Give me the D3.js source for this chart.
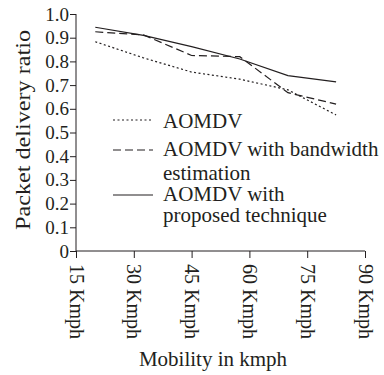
<!DOCTYPE html>
<html>
<head>
<meta charset="utf-8">
<script src="https://cdn.jsdelivr.net/npm/d3@7"></script>
<style>
  body { margin: 0; background: #fff; }
</style>
</head>
<body>
<div class="chart"></div>
<script>
// speeds where the curves were sampled
var speeds = [20, 32.5, 45, 57.5, 70, 82.5];
var aomdv = [0.883, 0.815, 0.755, 0.725, 0.68, 0.574];
var aomdvBw = [0.925, 0.912, 0.825, 0.82, 0.668, 0.62];
var aomdvProposed = [0.944, 0.91, 0.862, 0.81, 0.74, 0.714];

var xTicks = [15, 30, 45, 60, 75, 90];
var yTicks = [0, 0.1, 0.2, 0.3, 0.4, 0.5, 0.6, 0.7, 0.8, 0.9, 1.0];

var series = [
  {name: ["AOMDV"], values: aomdv, dash: "2,2.5"},
  {name: ["AOMDV with bandwidth", "estimation"], values: aomdvBw, dash: "8,4"},
  {name: ["AOMDV with", "proposed technique"], values: aomdvProposed, dash: null}
];

var ink = "#231f20";
var serif = "Liberation Serif";

var svg = d3.select(".chart")
  .append("svg")
  .attr("width", 384)
  .attr("height", 375);

var x = d3.scaleLinear().domain([15, 90]).range([76, 365]);
var y = d3.scaleLinear().domain([0, 1]).range([251, 14]);

// y axis
var yAxis = svg.append("g")
  .attr("transform", "translate(" + x(15) + ",0)")
  .call(d3.axisLeft(y).tickValues(yTicks).tickSize(6).tickPadding(1)
    .tickFormat(function(d) { return d === 0 ? "0" : d3.format(".1f")(d); }));
yAxis.select(".domain").remove();
yAxis.append("line").attr("x1", 0).attr("x2", 0).attr("y1", y(1)).attr("y2", y(0))
  .attr("stroke", ink);
yAxis.selectAll(".tick line").attr("stroke", ink);
yAxis.selectAll("text").attr("font-size", 19).style("font-family", serif).attr("fill", ink);

// x axis
var xAxis = svg.append("g")
  .attr("transform", "translate(0," + y(0) + ")")
  .call(d3.axisBottom(x).tickValues(xTicks).tickSize(7)
    .tickFormat(function(d) { return d + " Kmph"; }));
xAxis.select(".domain").remove();
xAxis.append("line").attr("x1", x(15)).attr("x2", x(90)).attr("y1", 0).attr("y2", 0)
  .attr("stroke", ink);
xAxis.selectAll(".tick line").attr("stroke", ink);
xAxis.selectAll("text")
  .attr("font-size", 20)
  .style("font-family", serif)
  .attr("fill", ink)
  .attr("text-anchor", "start")
  .attr("dy", "0.35em")
  .attr("transform", "translate(0,13) rotate(90)")
  .attr("y", 0)
  .attr("x", 0);

// axis titles
svg.append("text")
  .attr("x", 213)
  .attr("y", 366)
  .attr("text-anchor", "middle")
  .attr("font-size", 21)
  .style("font-family", serif)
  .attr("fill", ink)
  .text("Mobility in kmph");

// the y title in the original is drawn a bit stretched
svg.append("text")
  .attr("transform", "translate(30,130) rotate(-90)")
  .attr("x", -100)
  .attr("font-size", 21)
  .attr("textLength", 200)
  .attr("lengthAdjust", "spacingAndGlyphs")
  .style("font-family", serif)
  .attr("fill", ink)
  .text("Packet delivery ratio");

// lines
var line = d3.line()
  .x(function(d, i) { return x(speeds[i]); })
  .y(function(d) { return y(d); });

svg.selectAll(".series")
  .data(series)
  .enter()
  .append("path")
  .attr("class", "series")
  .attr("d", function(d) { return line(d.values); })
  .attr("fill", "none")
  .attr("stroke", ink)
  .attr("stroke-width", 1.2)
  .attr("stroke-dasharray", function(d) { return d.dash; });

// legend
var legendY = [120, 150, 195];
var legendBase = [[8], [6, 30], [6, 27]];
var legend = svg.selectAll(".legend")
  .data(series)
  .enter()
  .append("g")
  .attr("class", "legend")
  .attr("transform", function(d, i) { return "translate(0," + legendY[i] + ")"; });

legend.append("line")
  .attr("x1", 113).attr("x2", 153)
  .attr("y1", 0).attr("y2", 0)
  .attr("stroke", ink)
  .attr("stroke-width", 1.2)
  .attr("stroke-dasharray", function(d) { return d.dash; });

legend.each(function(d, i) {
  var g = d3.select(this);
  d.name.forEach(function(t, k) {
    g.append("text")
      .attr("x", 163)
      .attr("y", legendBase[i][k])
      .attr("font-size", 21)
      .style("font-family", serif)
      .attr("fill", ink)
      .text(t);
  });
});
</script>
</body>
</html>
